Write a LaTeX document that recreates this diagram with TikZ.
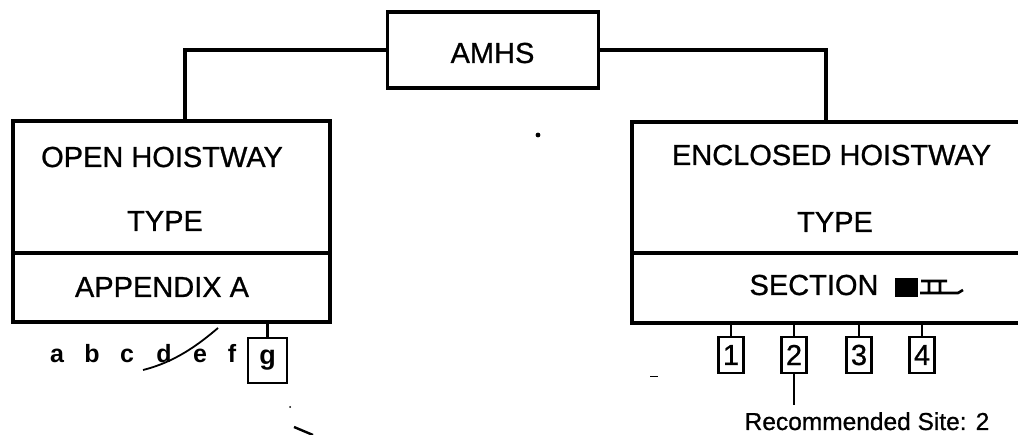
\documentclass[tikz,border=0pt]{standalone}
\usepackage{fontspec}
\setmainfont{Liberation Sans}
\newfontfamily\medfont{Liberation Sans}[FakeBold=0.8]
\begin{document}
\begin{tikzpicture}[x=1pt,y=-1pt,line width=3.2pt,
  box/.style={draw, inner sep=0pt},
  lbl/.style={font=\medfont\fontsize{29}{34}\selectfont, inner sep=0pt},
  small/.style={font=\bfseries\fontsize{25}{30}\selectfont, inner sep=0pt},
  numbox/.style={draw, line width=2.6pt, inner sep=0pt, minimum width=25, minimum height=36, font=\medfont\fontsize{29}{34}\selectfont},
  site/.style={font=\medfont\fontsize{24.5}{29}\selectfont, inner sep=0pt}]
\useasboundingbox (0,0) rectangle (1018,435);
% top node
\node[box, minimum width=211, minimum height=76] (amhs) at (493,50) {};
\node[lbl, anchor=base] (amhstxt) at (492.5,63) {AMHS};
% left block
\node[box, minimum width=317, minimum height=132] (lt) at (171.5,187) {};
\node[box, minimum width=317, minimum height=69] (lb) at (171.5,287.5) {};
\node[lbl, anchor=base] (lt1) at (162,167) {OPEN HOISTWAY};
\node[lbl, anchor=base] (lt2) at (165,231) {TYPE};
\node[lbl, anchor=base] (lb1) at (162,297) {APPENDIX A};
% right block (runs off the right edge)
\node[box, minimum width=400, minimum height=131] (rt) at (832,187.5) {};
\node[box, minimum width=400, minimum height=70] (rb) at (832,288) {};
\node[lbl, anchor=base] (rt1) at (831.5,165) {ENCLOSED HOISTWAY};
\node[lbl, anchor=base] (rt2) at (835,232) {TYPE};
\node[lbl, anchor=base] (rb1) at (814,295) {SECTION};
\fill (895,278) rectangle (918,297);
\draw[line width=2.6pt] (921,281) -- (947,281)
  (929,281) -- (929,293) (940,281) -- (940,293)
  (920,293) -- (958,293) -- (963,290);
% connectors from top
\draw (amhs.west) -| ([xshift=13.5pt]lt.north);
\draw (amhs.east) -| ([xshift=-6pt]rt.north);
% appendix options
\node[small, anchor=base] (la) at (57,363) {a};
\node[small, anchor=base] (lbb) at (92,363) {b};
\node[small, anchor=base] (lc) at (127,363) {c};
\node[small, anchor=base] (ld) at (164,363) {d};
\node[small, anchor=base] (le) at (200,363) {e};
\node[small, anchor=base] (lf) at (232,363) {f};
\node[draw, line width=2.6pt, inner sep=0pt, minimum width=39, minimum height=45, font=\bfseries\fontsize{27}{32}\selectfont] (lg) at (267.5,360.5) {g};
\draw[line width=2.4pt] (lg.north) -- (lg.north |- lb.south);
\draw[line width=1.8pt] (143,370) .. controls (175,362) and (198,345) .. (218,328);
% section sites
\node[numbox] (s1) at (731,355) {1};
\node[numbox] (s2) at (794,355) {2};
\node[numbox] (s3) at (859,355) {3};
\node[numbox] (s4) at (922,355) {4};
\foreach \s in {s1,s2,s3,s4} \draw[line width=2.4pt] (\s.north) -- (\s.north |- rb.south);
\node[site, anchor=base] (sitetxt) at (867,430) {Recommended Site: 2};
\draw[line width=2.6pt, shorten >=6pt] (s2.south) -- (s2.south |- sitetxt.north);
% stray pen marks
\fill (538,135) circle (2.4);
\fill (290,407) circle (1);
\draw[line width=2.4pt] (294,427) -- (313,435);
\draw[line width=1pt] (650,377) -- (658,377);
\end{tikzpicture}
\end{document}
